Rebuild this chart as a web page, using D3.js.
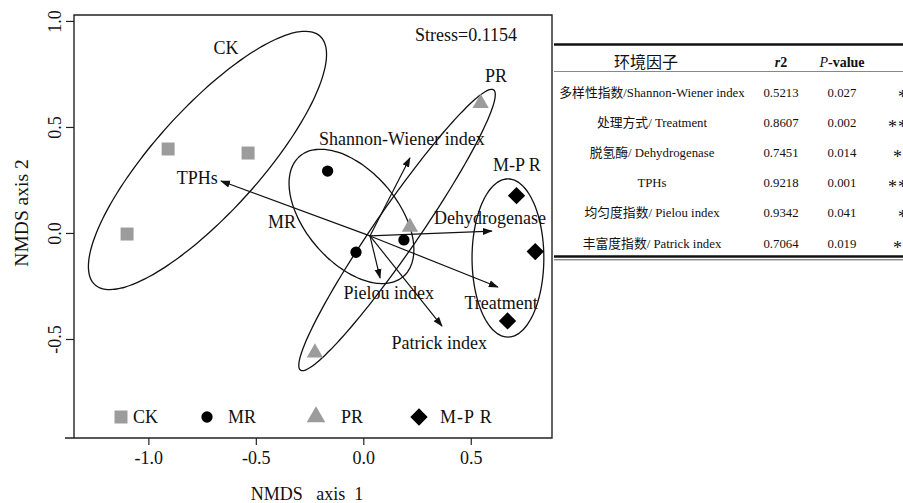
<!DOCTYPE html>
<html>
<head>
<meta charset="utf-8">
<script src="https://cdn.jsdelivr.net/npm/d3@7"></script>
<style>
  html, body { margin: 0; padding: 0; background: #fff; }
  svg { display: block; }
  text { font-family: "Liberation Serif", "Times New Roman", "Noto Sans CJK SC", serif; fill: #111; }
</style>
</head>
<body>
<svg id="chart" width="903" height="503"></svg>
<script>
// ---- NMDS site scores ----
const siteGroup = ["CK", "CK", "CK", "MR", "MR", "MR", "PR", "PR", "PR", "M-PR", "M-PR", "M-PR"];
const siteX = [-1.099, -0.908, -0.536, -0.166, -0.034, 0.189, 0.546, 0.217, -0.225, 0.713, 0.800, 0.671];
const siteY = [-0.005, 0.396, 0.377, 0.292, -0.091, -0.033, 0.612, 0.028, -0.565, 0.176, -0.088, -0.415];

// ---- group ellipses (data units; angle in degrees) ----
const ellGroup = ["CK", "MR", "PR", "M-PR"];
const ellCX = [-0.725, -0.055, 0.157, 0.673];
const ellCY = [0.342, 0.078, 0.014, -0.118];
const ellA = [0.786, 0.372, 0.799, 0.373];
const ellB = [0.245, 0.215, 0.103, 0.167];
const ellAngle = [48.3, -50, 55.8, 90];

// ---- group labels ----
const groupLabels = ["CK", "MR", "PR", "M-P R"];
const groupLabelX = [-0.639, -0.378, 0.617, 0.715];
const groupLabelY = [0.873, 0.052, 0.741, 0.321];

// ---- environmental vectors (envfit) ----
const envNames = ["TPHs", "Shannon-Wiener index", "Dehydrogenase", "Treatment", "Pielou index", "Patrick index"];
const envX = [-0.662, 0.217, 0.598, 0.626, 0.078, 0.366];
const envY = [0.245, 0.354, 0.009, -0.255, -0.212, -0.439];
const envLabelX = [-0.773, 0.180, 0.590, 0.641, 0.119, 0.353];
const envLabelY = [0.259, 0.443, 0.071, -0.330, -0.283, -0.519];
const arrowOrigin = [0.031, -0.014];

const stressText = "Stress=0.1154";
const stressPos = [0.478, 0.934];

// ---- axes ----
const xTicks = [-1.0, -0.5, 0.0, 0.5];
const yTicks = [1.0, 0.5, 0.0, -0.5];
const xTitle = "NMDS   axis  1";
const yTitle = "NMDS axis 2";

// ---- legend ----
const legendGroups = ["CK", "MR", "PR", "M-PR"];
const legendLabels = ["CK", "MR", "PR", "M-P R"];

// ---- envfit table ----
const tableHeader = ["环境因子", "r2", "P-value"];
const tableFactors = ["多样性指数/Shannon-Wiener index", "处理方式/ Treatment", "脱氢酶/ Dehydrogenase", "TPHs", "均匀度指数/ Pielou index", "丰富度指数/ Patrick index"];
const tableR2 = ["0.5213", "0.8607", "0.7451", "0.9218", "0.9342", "0.7064"];
const tableP = ["0.027", "0.002", "0.014", "0.001", "0.041", "0.019"];
const tableSig = ["*", "***", "**", "***", "*", "**"];

// ================= drawing =================
const svg = d3.select("#chart");

const x = d3.scaleLinear().domain([-1.346, 0.878]).range([74, 552]);
const y = d3.scaleLinear().domain([1.028, -0.967]).range([15, 438]);

const grey = "#9c9c9c";
const shapeOf = {
  "CK": { type: d3.symbolSquare, size: 169, fill: grey, rot: 0 },
  "MR": { type: d3.symbolCircle, size: 100, fill: "#000", rot: 0 },
  "PR": { type: d3.symbolTriangle, size: 115, fill: grey, rot: 0 },
  "M-PR": { type: d3.symbolSquare, size: 150, fill: "#000", rot: 45 }
};

// frame
svg.append("path")
  .attr("d", `M65,${y.range()[1]}H${x.range()[1]}V${y.range()[0]}H${x.range()[0]}V${y.range()[1]}`)
  .attr("fill", "none").attr("stroke", "#222").attr("stroke-width", 1.4);

// x axis
const gx = svg.append("g").attr("transform", `translate(0,${y.range()[1]})`)
  .call(d3.axisBottom(x).tickValues(xTicks).tickSize(7).tickPadding(6).tickFormat(d => d.toFixed(1)));
gx.select(".domain").remove();
gx.selectAll(".tick line").attr("stroke", "#222").attr("stroke-width", 1.2);
gx.selectAll(".tick text").attr("font-size", 18).attr("font-family", "Liberation Serif").attr("fill", "#111");

// y axis
const gy = svg.append("g").attr("transform", `translate(${x.range()[0]},0)`)
  .call(d3.axisLeft(y).tickValues(yTicks).tickSize(8).tickFormat(d => d.toFixed(1)));
gy.select(".domain").remove();
gy.selectAll(".tick line").attr("stroke", "#222").attr("stroke-width", 1.2);
gy.selectAll(".tick text")
  .attr("font-size", 18).attr("font-family", "Liberation Serif").attr("fill", "#111")
  .attr("x", null).attr("dy", null)
  .attr("text-anchor", "middle")
  .attr("transform", "translate(-13,0) rotate(-90)");

// axis titles
svg.append("text").attr("x", 307).attr("y", 500).attr("text-anchor", "middle")
  .attr("font-size", 18).style("white-space", "pre").text(xTitle);
svg.append("text").attr("transform", "translate(28,213) rotate(-90)").attr("text-anchor", "middle")
  .attr("font-size", 19.5).text(yTitle);

// ellipses
const line = d3.line().curve(d3.curveCardinalClosed);
ellGroup.forEach((g, i) => {
  const th = ellAngle[i] * Math.PI / 180;
  const pts = d3.range(0, 360, 3).map(deg => {
    const t = deg * Math.PI / 180;
    const dx = ellA[i] * Math.cos(t) * Math.cos(th) - ellB[i] * Math.sin(t) * Math.sin(th);
    const dy = ellA[i] * Math.cos(t) * Math.sin(th) + ellB[i] * Math.sin(t) * Math.cos(th);
    return [x(ellCX[i] + dx), y(ellCY[i] + dy)];
  });
  svg.append("path").attr("d", line(pts))
    .attr("fill", "none").attr("stroke", "#111").attr("stroke-width", 1.3);
});

// arrow marker
svg.append("defs").append("marker")
  .attr("id", "head").attr("markerUnits", "userSpaceOnUse")
  .attr("viewBox", "0 0 10 8").attr("refX", 9).attr("refY", 4)
  .attr("markerWidth", 10).attr("markerHeight", 8).attr("orient", "auto")
  .append("path").attr("d", "M0,0.5L10,4L0,7.5Z").attr("fill", "#111");

// vectors
envNames.forEach((n, i) => {
  svg.append("line")
    .attr("x1", x(arrowOrigin[0])).attr("y1", y(arrowOrigin[1]))
    .attr("x2", x(envX[i])).attr("y2", y(envY[i]))
    .attr("stroke", "#111").attr("stroke-width", 1.2)
    .attr("marker-end", "url(#head)");
  svg.append("text").attr("x", x(envLabelX[i])).attr("y", y(envLabelY[i]))
    .attr("dy", "0.35em").attr("text-anchor", "middle").attr("font-size", 18).text(n);
});

// group labels
groupLabels.forEach((n, i) => {
  svg.append("text").attr("x", x(groupLabelX[i])).attr("y", y(groupLabelY[i]))
    .attr("dy", "0.35em").attr("text-anchor", "middle").attr("font-size", 18).text(n);
});

svg.append("text").attr("x", x(stressPos[0])).attr("y", y(stressPos[1]))
  .attr("dy", "0.35em").attr("text-anchor", "middle").attr("font-size", 18).text(stressText);

// site points
siteGroup.forEach((g, i) => {
  const s = shapeOf[g];
  svg.append("path")
    .attr("d", d3.symbol().type(s.type).size(s.size)())
    .attr("transform", `translate(${x(siteX[i])},${y(siteY[i])}) rotate(${s.rot})`)
    .attr("fill", s.fill);
});

// legend
const legendMarkX = [121, 207, 316, 419];
const legendTextX = [133, 228, 341, 440];
legendGroups.forEach((g, i) => {
  const s = shapeOf[g];
  svg.append("path")
    .attr("d", d3.symbol().type(s.type).size(g === "PR" ? 150 : s.size)())
    .attr("transform", `translate(${legendMarkX[i]},417) rotate(${s.rot})`)
    .attr("fill", s.fill);
  svg.append("text").attr("x", legendTextX[i]).attr("y", 423).attr("font-size", 18)
    .attr("letter-spacing", g === "M-PR" ? 1 : 0).text(legendLabels[i]);
});

// ---- table ----
const tbl = svg.append("g");
tbl.append("line").attr("x1", 554).attr("x2", 903).attr("y1", 44.5).attr("y2", 44.5)
  .attr("stroke", "#111").attr("stroke-width", 2.6);
tbl.append("line").attr("x1", 554).attr("x2", 903).attr("y1", 71.5).attr("y2", 71.5)
  .attr("stroke", "#888").attr("stroke-width", 1);
tbl.append("line").attr("x1", 554).attr("x2", 903).attr("y1", 256.5).attr("y2", 256.5)
  .attr("stroke", "#111").attr("stroke-width", 2.4);
tbl.append("line").attr("x1", 554).attr("x2", 903).attr("y1", 259.8).attr("y2", 259.8)
  .attr("stroke", "#555").attr("stroke-width", 1);

const colX = [652, 781, 842];
tbl.append("text").attr("x", 646).attr("y", 68).attr("text-anchor", "middle")
  .attr("font-size", 16).attr("font-family", "Noto Sans CJK SC").text(tableHeader[0]);
const h2 = tbl.append("text").attr("x", colX[1]).attr("y", 67).attr("text-anchor", "middle")
  .attr("font-size", 14).attr("font-weight", "bold");
h2.append("tspan").attr("font-style", "italic").text(tableHeader[1].slice(0, 1));
h2.append("tspan").text(tableHeader[1].slice(1));
const h3 = tbl.append("text").attr("x", colX[2]).attr("y", 67).attr("text-anchor", "middle")
  .attr("font-size", 14).attr("font-weight", "bold");
h3.append("tspan").attr("font-style", "italic").attr("font-weight", "normal").text(tableHeader[2].slice(0, 1));
h3.append("tspan").text(tableHeader[2].slice(1));

tableFactors.forEach((f, i) => {
  const cy = 92 + 30.2 * i;
  tbl.append("text").attr("x", colX[0]).attr("y", cy + 4.5).attr("text-anchor", "middle")
    .attr("font-size", 12.8).attr("fill", "#222").text(f);
  tbl.append("text").attr("x", colX[1]).attr("y", cy + 4.5).attr("text-anchor", "middle")
    .attr("font-size", 12.8).attr("fill", "#222").text(tableR2[i]);
  tbl.append("text").attr("x", colX[2]).attr("y", cy + 4.5).attr("text-anchor", "middle")
    .attr("font-size", 12.8).attr("fill", "#222").text(tableP[i]);
  const n = tableSig[i].length;
  for (let k = 0; k < n; k++) {
    tbl.append("text").attr("x", 903 - 5 * n + 10 * k).attr("y", cy + 10.5)
      .attr("font-size", 18).attr("font-family", "DejaVu Serif").attr("fill", "#333").text("*");
  }
});
</script>
</body>
</html>
